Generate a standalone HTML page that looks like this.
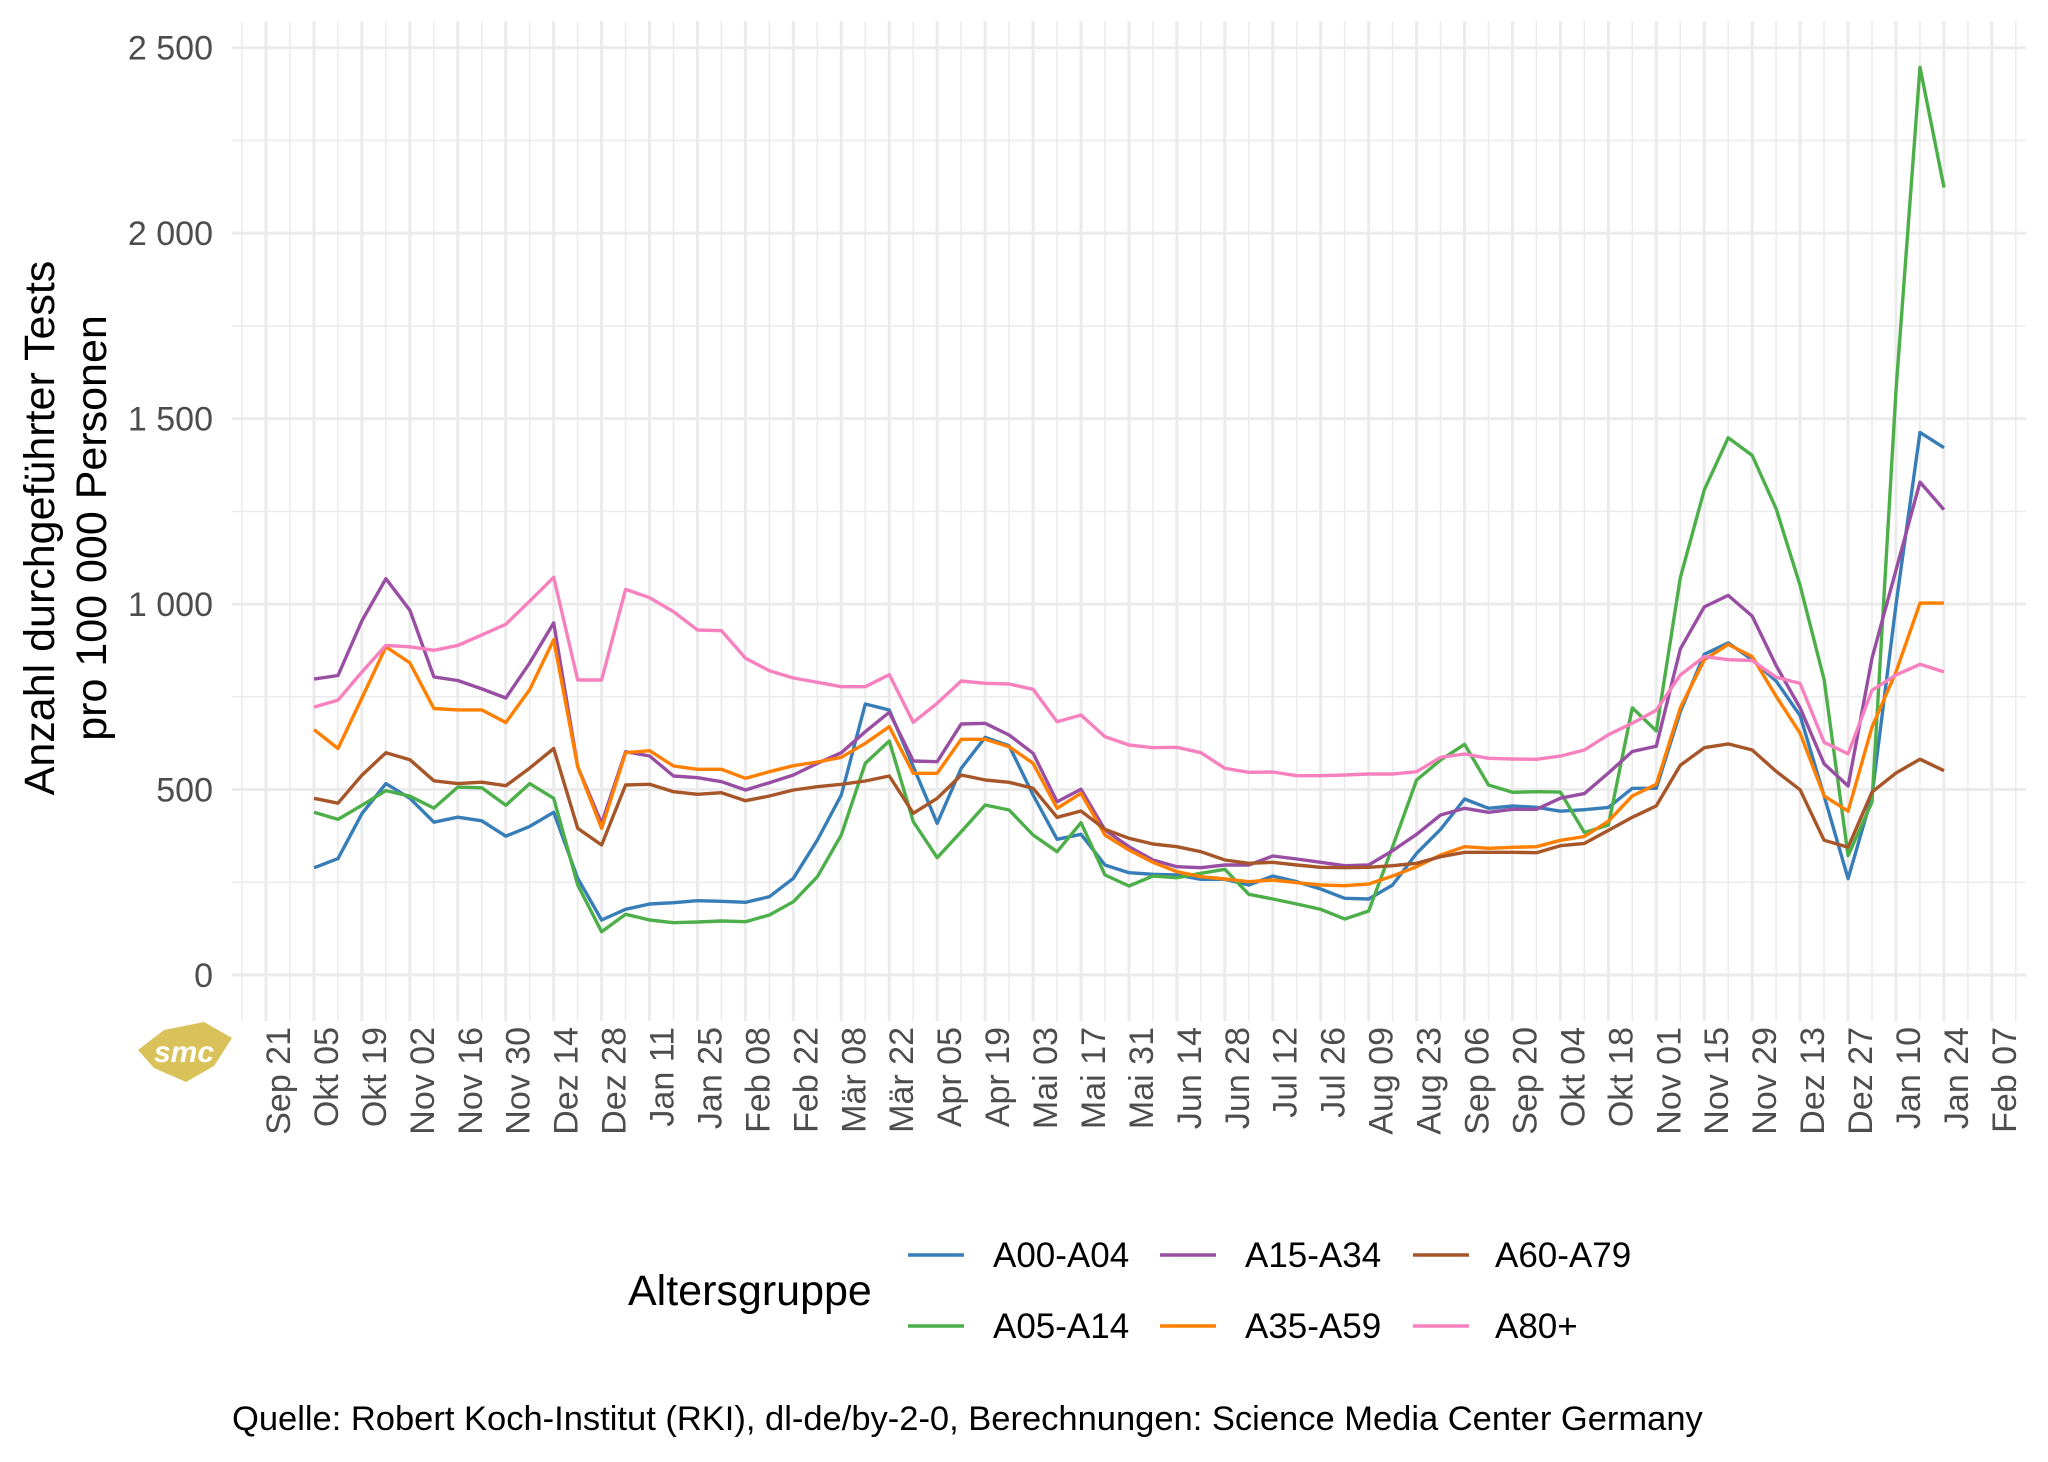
<!DOCTYPE html>
<html><head><meta charset="utf-8"><style>
html,body{margin:0;padding:0;background:#fff;}
svg{display:block;font-family:"Liberation Sans",sans-serif;}
</style></head><body>
<svg id="c" width="2048" height="1462" viewBox="0 0 2048 1462" xmlns="http://www.w3.org/2000/svg">
<rect width="2048" height="1462" fill="#fff"/>
<g id="grid"></g>
<g id="ylab" fill="#4d4d4d" font-size="34" text-anchor="end"></g>
<g id="xlab" fill="#4d4d4d" font-size="34" text-anchor="end"></g>
<g id="series" fill="none" stroke-width="3.4" stroke-linejoin="round"></g>
<text transform="translate(54,528) rotate(-90)" text-anchor="middle" font-size="43" fill="#000">Anzahl durchgeführter Tests</text>
<text transform="translate(106,528) rotate(-90)" text-anchor="middle" font-size="43" fill="#000">pro 100 000 Personen</text>
<g transform="translate(184,1052)">
<polygon points="-46,-2 -20,-22 20,-30 48,-14 30,14 2,30 -30,16" fill="#d9c25a"/>
<text x="0" y="10" text-anchor="middle" font-size="30" font-weight="bold" fill="#fff" font-style="italic">smc</text>
</g>
<text x="628" y="1305" font-size="43" fill="#000">Altersgruppe</text>
<g font-size="35" fill="#000">
<line x1="908" y1="1255" x2="964" y2="1255" stroke="#377eb8" stroke-width="3.4"/><text x="993" y="1267">A00-A04</text>
<line x1="908" y1="1326" x2="964" y2="1326" stroke="#4daf4a" stroke-width="3.4"/><text x="993" y="1338">A05-A14</text>
<line x1="1160" y1="1255" x2="1216" y2="1255" stroke="#984ea3" stroke-width="3.4"/><text x="1245" y="1267">A15-A34</text>
<line x1="1160" y1="1326" x2="1216" y2="1326" stroke="#ff7f00" stroke-width="3.4"/><text x="1245" y="1338">A35-A59</text>
<line x1="1413" y1="1255" x2="1469" y2="1255" stroke="#a65628" stroke-width="3.4"/><text x="1495" y="1267">A60-A79</text>
<line x1="1413" y1="1326" x2="1469" y2="1326" stroke="#f781bf" stroke-width="3.4"/><text x="1495" y="1338">A80+</text>
</g>
<text x="232" y="1430" font-size="34.5" fill="#000">Quelle: Robert Koch-Institut (RKI), dl-de/by-2-0, Berechnungen: Science Media Center Germany</text>
</svg>
<script>
var NS="http://www.w3.org/2000/svg";
function el(p,t,a,txt){var e=document.createElementNS(NS,t);for(var k in a)e.setAttribute(k,a[k]);if(txt!==undefined)e.textContent=txt;p.appendChild(e);return e;}
var grid=document.getElementById('grid');
var y0=975,per=185.46/500;
for(var v=0;v<=2750;v+=250){var y=y0-v*per;if(y<20)break;el(grid,'line',{x1:232,x2:2026,y1:y,y2:y,stroke:'#ebebeb','stroke-width':(v%500==0)?3:1.5});}
var x0=266,wk=23.97;
for(var w=-1;w<=73;w++){var x=x0+w*wk;el(grid,'line',{x1:x,x2:x,y1:21,y2:1021,stroke:'#ebebeb','stroke-width':(w%2==0)?3:1.5});}
var yl=document.getElementById('ylab');
[["0",0],["500",500],["1 000",1000],["1 500",1500],["2 000",2000],["2 500",2500]].forEach(function(p){el(yl,'text',{x:213,y:y0-p[1]*per+12},p[0]);});
var labs=["Sep 21","Okt 05","Okt 19","Nov 02","Nov 16","Nov 30","Dez 14","Dez 28","Jan 11","Jan 25","Feb 08","Feb 22","Mär 08","Mär 22","Apr 05","Apr 19","Mai 03","Mai 17","Mai 31","Jun 14","Jun 28","Jul 12","Jul 26","Aug 09","Aug 23","Sep 06","Sep 20","Okt 04","Okt 18","Nov 01","Nov 15","Nov 29","Dez 13","Dez 27","Jan 10","Jan 24","Feb 07"];
var xl=document.getElementById('xlab');
labs.forEach(function(l,i){var x=x0+i*2*wk+24;el(xl,'text',{transform:'translate('+x+',1027) rotate(-90)',y:0},l);});
var z1=[[1008,968,1040,1138,1237,1158],[998,963,1067,1145,1224,1168],[958,885,995,1105,1160,1148],[920,825,922,1073,1117,1127],[922,870,945,1083,1138,1135],[927,965,1010,1113,1172,1152],[920,970,1012,1117,1165,1122],[905,982,1012,1115,1170,1123],[890,995,1030,1120,1192,1148],[857,945,983,1095,1178,1117],[823,888,912,1067,1158,1138]];
var z3=[[600,860,860,1045,1195,1215],[600,1030,1045,1095,1320,1355],[328,815,818,915,1288,1303],[353,828,812,913,1272,1320],[395,888,858,935,1268,1328],[450,893,868,943,1262,1326],[452,905,868,938,1264,1323],[535,930,895,962,1267,1325],[572,908,875,948,1250,1305],[594,885,857,930,1195,1265],[607,850,846,920,1080,1190],[620,818,832,913,945,1065],[620,755,790,903,672,850],[584,697,740,888,690,783],[727,843,880,1000,860,1025],[670,845,880,955,1030,1133],[603,732,778,885,865,1055],[610,730,778,900,772,975],[612,765,800,907,797,990],[628,820,850,925,945,1065]];
var z4=[[365,605,625,652,718,755],[345,568,580,633,703,668],[410,690,705,688,795,825],[435,740,750,715,818,858],[443,780,787,732,823,828],[442,800,815,740,825,833],[458,803,830,755,838,820],[505,795,837,780,838,808],[517,795,845,790,855,883],[516,768,840,787,828,897],[527,777,848,795,845,912],[527,787,855,802,867,928],[525,797,857,803,895,957],[522,795,852,802,897,933],[522,752,828,797,855,740],[515,703,800,790,760,540],[472,645,765,770,688,480],[462,625,740,757,597,433],[475,637,745,757,625,555],[477,628,742,757,618,577],[478,628,740,758,622,575]];
var z2=[[988,1043,1098,1105,1060,1035],[980,1037,1093,1102,1058,1088],[960,1010,1073,1085,1055,1078],[945,982,1040,1068,1030,925],[928,975,1025,1053,1030,955],[882,848,925,1000,930,755],[858,793,862,977,855,640],[862,778,842,972,840,572],[863,805,858,980,862,595],[885,870,910,1008,890,665],[893,925,958,1032,935,765],[970,998,1040,1098,1040,888],[985,1027,1060,1107,1148,1118],[902,860,950,1035,1040,1048],[882,745,878,1010,790,510],[868,630,788,992,565,88],[878,666,788,1007,585,245]];
var rows=[];
z1.forEach(function(r){rows.push(r.map(function(v){return v*0.7015;}));});
z3.forEach(function(r){rows.push(r.map(function(v){return 480+v/3;}));});
z4.forEach(function(r){rows.push(r.map(function(v){return 600+v/3;}));});
z2.forEach(function(r){rows.push(r.map(function(v){return v*0.7653;}));});
var cols=['#f781bf','#984ea3','#ff7f00','#a65628','#377eb8','#4daf4a'];
var order=[4,5,1,2,3,0];
var sg=document.getElementById('series');
order.forEach(function(s){var pts=rows.map(function(r,i){return (314+i*wk).toFixed(1)+','+r[s].toFixed(1);}).join(' ');el(sg,'polyline',{points:pts,stroke:cols[s]});});
</script>
</body></html>
